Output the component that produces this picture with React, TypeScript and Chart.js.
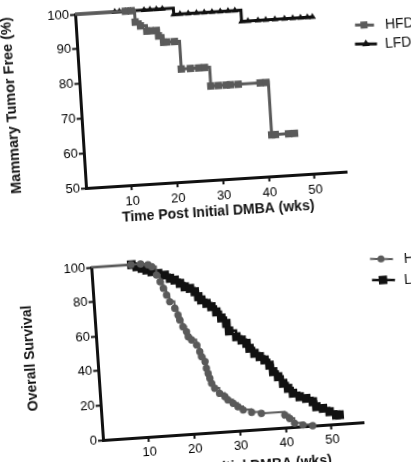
import React, { useEffect, useRef } from "react";
import { Chart, registerables } from "chart.js";

Chart.register(...registerables);

// ---------------- data ----------------
const seriesNames = ["HFD", "LFD"];
const weekTicks = [10, 20, 30, 40, 50];
const tumorFreeTicks = [50, 60, 70, 80, 90, 100];
const survivalTicks = [0, 20, 40, 60, 80, 100];

// Top panel: Mammary Tumor Free (%)
const tumorHfdWeeks = [0, 11.0, 12.3, 13.0, 14.1, 15.4, 16.2, 17.5, 17.9, 18.9, 19.6, 21.3, 22.4, 24.4, 26.2, 27.5, 28.6, 30.3, 32.0, 32.9, 34.6, 39.4, 40.7, 41.2, 42.0, 44.9, 46.2];
const tumorHfdPct = [100, 100, 100, 96.7, 95.5, 93.9, 93.9, 93.9, 92.3, 90.4, 90.4, 90.4, 82.4, 82.4, 82.4, 82.4, 77.0, 77.0, 77.0, 77.0, 77.0, 77.0, 77.0, 61.9, 61.9, 61.9, 61.9];
const tumorLfdWeeks = [0, 8.7, 9.7, 11.0, 12.1, 15.1, 16.4, 17.8, 19.1, 21.5, 22.9, 24.7, 26.5, 28.2, 29.9, 31.7, 33.4, 34.9, 36.2, 37.6, 39.8, 41.5, 43.5, 45.6, 47.4, 49.1, 50.6, 51.7];
const tumorLfdPct = [100, 100, 100, 100, 100, 100, 100, 100, 100, 98.2, 98.2, 98.2, 98.2, 98.2, 98.2, 98.2, 98.2, 98.2, 95.0, 95.0, 95.0, 95.0, 95.0, 95.0, 95.0, 95.0, 95.0, 95.0];

// Bottom panel: Overall Survival
const survHfdWeeks = [0, 8.7, 10.8, 12.4, 13.2, 14.1, 14.8, 15.4, 16.0, 16.6, 17.6, 18.2, 18.5, 19.1, 19.8, 20.1, 20.8, 21.8, 22.4, 22.7, 23.4, 23.6, 23.9, 24.2, 24.5, 25.1, 26.1, 27.2, 27.8, 28.9, 29.9, 31.0, 32.8, 34.9, 40.0, 41.0, 42.0, 43.8, 45.9];
const survHfdPct = [100, 100, 100, 99.3, 98.0, 93.0, 89.0, 85.1, 81.1, 77.1, 73.1, 69.1, 66.2, 62.1, 59.2, 56.2, 54.2, 51.1, 47.1, 44.2, 41.2, 37.3, 34.3, 31.4, 28.4, 25.4, 22.3, 20.2, 18.2, 16.0, 13.9, 11.8, 10.1, 9.1, 7.2, 5.1, 2.1, 0.8, 0];
const survLfdWeeks = [0, 8.8, 9.9, 11.0, 12.0, 13.1, 14.5, 15.9, 17.0, 18.0, 19.1, 20.1, 21.2, 22.2, 22.9, 23.5, 24.6, 25.6, 26.6, 27.6, 28.6, 29.1, 30.6, 31.7, 32.7, 33.3, 34.3, 35.4, 36.4, 37.4, 38.1, 39.1, 40.1, 41.1, 42.1, 43.5, 44.9, 46.3, 47.0, 48.4, 49.8, 51.2, 51.9];
const survLfdPct = [100, 100, 98.6, 97.5, 96.3, 95.1, 93.9, 92.7, 90.6, 89.4, 87.3, 85.1, 84.0, 81.9, 78.9, 76.9, 74.7, 72.6, 69.4, 65.7, 62.4, 57.9, 54.3, 52.2, 50.1, 47.1, 44.0, 41.9, 39.8, 36.6, 32.7, 29.6, 25.6, 22.5, 19.5, 17.2, 16.0, 13.8, 10.8, 9.6, 7.4, 5.2, 5.2];

// ---------------- styling ----------------
const FONT = "'Liberation Sans', Arial, Helvetica, sans-serif";
const INK = "#111111";
const GREY = "#5a5a5a";

type MarkerStyle = "rect" | "triangle" | "circle";

interface SeriesSpec {
  label: string;
  weeks: number[];
  values: number[];
  color: string;
  marker: MarkerStyle;
  radius: number;
  lineWidth: number;
}

interface LegendSpec {
  label: string;
  color: string;
  marker: MarkerStyle;
  radius: number;
  lineWidth: number;
  y: number;
  x1: number;
  x2: number;
  mx: number;
  tx: number;
}

interface PanelSpec {
  canvasLeft: number;
  canvasTop: number;
  width: number;
  height: number;
  originX: number;
  originY: number;
  angle: number;
  plotWidth: number;
  plotHeight: number;
  xTitleBand: number;
  yMin: number;
  yMax: number;
  yTicks: number[];
  yTitle: string;
  xTitle: string;
  yTitleSize: number;
  yTitlePad: number;
  xTickPad: number;
  series: SeriesSpec[];
  legend: LegendSpec[];
}

function drawMarker(ctx: CanvasRenderingContext2D, style: MarkerStyle, x: number, y: number, r: number, color: string) {
  ctx.fillStyle = color;
  ctx.beginPath();
  if (style === "rect") {
    const h = r * Math.SQRT1_2;
    ctx.rect(x - h, y - h, 2 * h, 2 * h);
  } else if (style === "triangle") {
    ctx.moveTo(x, y - r);
    ctx.lineTo(x + r * 0.866, y + r * 0.5);
    ctx.lineTo(x - r * 0.866, y + r * 0.5);
    ctx.closePath();
  } else {
    ctx.arc(x, y, r, 0, Math.PI * 2);
  }
  ctx.fill();
}

function makeLegendPlugin(panel: PanelSpec) {
  return {
    id: "pageLegend",
    afterDraw(chart: any) {
      const { ctx, chartArea } = chart;
      const th = (panel.angle * Math.PI) / 180;
      const c = Math.cos(th);
      const s = Math.sin(th);
      const pageOx = panel.canvasLeft + chartArea.left;
      const pageOy = panel.canvasTop + chartArea.bottom;
      const toLocal = (px: number, py: number) => {
        const X = px - pageOx;
        const Y = py - pageOy;
        return { x: chartArea.left + c * X - s * Y, y: chartArea.bottom + s * X + c * Y };
      };
      ctx.save();
      panel.legend.forEach((it) => {
        const a = toLocal(it.x1, it.y);
        const b = toLocal(it.x2, it.y);
        const m = toLocal(it.mx, it.y);
        const t = toLocal(it.tx, it.y);
        ctx.strokeStyle = it.color;
        ctx.lineWidth = it.lineWidth;
        ctx.beginPath();
        ctx.moveTo(a.x, a.y);
        ctx.lineTo(b.x, b.y);
        ctx.stroke();
        drawMarker(ctx, it.marker, m.x, m.y, it.radius, it.color);
        ctx.fillStyle = INK;
        ctx.font = `14px ${FONT}`;
        ctx.textBaseline = "middle";
        ctx.textAlign = "left";
        ctx.fillText(it.label, t.x, t.y);
      });
      ctx.restore();
    },
  };
}

function buildConfig(panel: PanelSpec): any {
  const datasets = panel.series.map((sr) => ({
    label: sr.label,
    data: sr.weeks.map((w, i) => ({ x: w, y: sr.values[i] })),
    stepped: true,
    borderColor: sr.color,
    backgroundColor: sr.color,
    borderWidth: sr.lineWidth,
    pointStyle: sr.marker,
    pointRadius: (ctx: any) => (ctx.dataIndex === 0 ? 0 : sr.radius),
    pointBackgroundColor: sr.color,
    pointBorderColor: sr.color,
    pointBorderWidth: 0,
    fill: false,
    clip: false,
  }));
  const padRight = panel.width - panel.originX - panel.plotWidth;
  const padTop = panel.originY - panel.plotHeight;
  return {
    type: "line",
    data: { datasets },
    options: {
      responsive: false,
      animation: false,
      devicePixelRatio: 1,
      layout: { padding: { left: 0, top: padTop, right: padRight, bottom: 0 } },
      plugins: { legend: { display: false }, tooltip: { enabled: false }, title: { display: false } },
      scales: {
        x: {
          type: "linear",
          min: 0,
          max: 57,
          afterBuildTicks: (sc: any) => {
            sc.ticks = weekTicks.map((v) => ({ value: v }));
          },
          afterFit: (sc: any) => {
            sc.height = panel.xTitleBand;
          },
          grid: { display: true, drawOnChartArea: false, drawTicks: true, tickLength: 5, tickWidth: 2, tickColor: INK },
          border: { display: true, color: INK, width: 3 },
          ticks: { font: { family: FONT, size: 13 }, color: "#000", padding: panel.xTickPad, maxRotation: 0, autoSkip: false },
          title: {
            display: true,
            text: panel.xTitle,
            color: INK,
            font: { family: FONT, size: 14, weight: "bold" },
            padding: { top: 0, bottom: 4 },
          },
        },
        y: {
          type: "linear",
          min: panel.yMin,
          max: panel.yMax,
          afterBuildTicks: (sc: any) => {
            sc.ticks = panel.yTicks.map((v) => ({ value: v }));
          },
          afterFit: (sc: any) => {
            sc.width = panel.originX;
          },
          grid: { display: true, drawOnChartArea: false, drawTicks: true, tickLength: 5, tickWidth: 2, tickColor: INK },
          border: { display: true, color: INK, width: 3 },
          ticks: { font: { family: FONT, size: 13 }, color: "#000", padding: 1, autoSkip: false },
          title: {
            display: true,
            text: panel.yTitle,
            color: INK,
            font: { family: FONT, size: panel.yTitleSize, weight: "bold" },
            padding: { top: panel.yTitlePad, bottom: 0 },
          },
        },
      },
    },
    plugins: [makeLegendPlugin(panel)],
  };
}

const topPanel: PanelSpec = {
  canvasLeft: 0,
  canvasTop: 0,
  width: 440,
  height: 233,
  originX: 86,
  originY: 188,
  angle: 3.6,
  plotWidth: 261,
  plotHeight: 174,
  xTitleBand: 45,
  yMin: 50,
  yMax: 100,
  yTicks: tumorFreeTicks,
  yTitle: "Mammary Tumor Free (%)",
  xTitle: "Time Post Initial DMBA (wks)",
  yTitleSize: 14.5,
  yTitlePad: 8,
  xTickPad: 4,
  series: [
    { label: seriesNames[0], weeks: tumorHfdWeeks, values: tumorHfdPct, color: GREY, marker: "rect", radius: 5.2, lineWidth: 3 },
    { label: seriesNames[1], weeks: tumorLfdWeeks, values: tumorLfdPct, color: INK, marker: "triangle", radius: 4, lineWidth: 3 },
  ],
  legend: [
    { label: seriesNames[0], color: GREY, marker: "rect", radius: 5, lineWidth: 3, y: 25, x1: 355, x2: 374, mx: 364, tx: 385 },
    { label: seriesNames[1], color: INK, marker: "triangle", radius: 4.5, lineWidth: 3, y: 44, x1: 355, x2: 377, mx: 366, tx: 385 },
  ],
};

const bottomPanel: PanelSpec = {
  canvasLeft: 0,
  canvasTop: 240,
  width: 440,
  height: 249,
  originX: 103,
  originY: 200,
  angle: 3.9,
  plotWidth: 261,
  plotHeight: 173,
  xTitleBand: 49,
  yMin: 0,
  yMax: 100,
  yTicks: survivalTicks,
  yTitle: "Overall Survival",
  xTitle: "Time Post Initial DMBA (wks)",
  yTitleSize: 14,
  yTitlePad: 28,
  xTickPad: 3,
  series: [
    { label: seriesNames[0], weeks: survHfdWeeks, values: survHfdPct, color: GREY, marker: "circle", radius: 3.7, lineWidth: 2 },
    { label: seriesNames[1], weeks: survLfdWeeks, values: survLfdPct, color: INK, marker: "rect", radius: 6.2, lineWidth: 2.5 },
  ],
  legend: [
    { label: seriesNames[0], color: GREY, marker: "circle", radius: 3.5, lineWidth: 2, y: 259, x1: 370, x2: 393, mx: 381, tx: 404 },
    { label: seriesNames[1], color: INK, marker: "rect", radius: 6, lineWidth: 2.5, y: 280, x1: 372, x2: 395, mx: 383, tx: 404 },
  ],
};

function PanelChart({ panel }: { panel: PanelSpec }) {
  const ref = useRef<HTMLCanvasElement | null>(null);
  useEffect(() => {
    if (!ref.current) return;
    const chart = new Chart(ref.current, buildConfig(panel));
    return () => chart.destroy();
  }, [panel]);
  return (
    <canvas
      ref={ref}
      width={panel.width}
      height={panel.height}
      style={{
        position: "absolute",
        left: panel.canvasLeft,
        top: panel.canvasTop,
        width: panel.width,
        height: panel.height,
        transformOrigin: `${panel.originX}px ${panel.originY}px`,
        transform: `rotate(${-panel.angle}deg)`,
      }}
    />
  );
}

export default function App() {
  return (
    <div
      style={{
        position: "fixed",
        left: 0,
        top: 0,
        width: 411,
        height: 462,
        overflow: "hidden",
        background: "#ffffff",
      }}
    >
      <PanelChart panel={topPanel} />
      <PanelChart panel={bottomPanel} />
    </div>
  );
}
